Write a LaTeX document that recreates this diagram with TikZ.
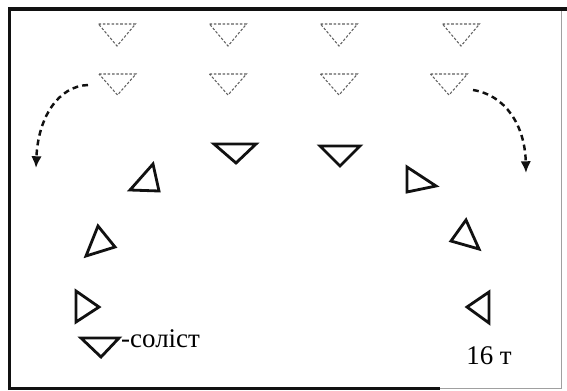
\documentclass[tikz,border=0pt]{standalone}
\usepackage{fontspec}
\setmainfont{Liberation Serif}
\usetikzlibrary{arrows.meta}
\definecolor{Ink}{HTML}{111111}
\definecolor{Ghost}{HTML}{606060}
\definecolor{Edge}{HTML}{A0A0A0}

\begin{document}
\begin{tikzpicture}[x=0.03cm,y=-0.03cm,
  ghost/.style={Ghost,dash pattern=on 2.2pt off 1.5pt,line width=0.9pt},
  dancer/.style={Ink,line width=2.4pt,line join=miter},
  move/.style={Ink,line width=2.1pt,dash pattern=on 5pt off 3.5pt,
    -{Latex[length=10pt,width=9pt]}},
  note/.style={font=\fontsize{23}{26}\selectfont,inner sep=0pt}]
\useasboundingbox (0,0) rectangle (567,390);
% Frame
\draw[Ink,line width=3.4pt] (9.5,390) -- (9.5,9) -- (567,9);
\draw[Ink,line width=3pt] (8,388.5) -- (440,388.5);
\draw[Edge,line width=0.8pt] (440,388.5) -- (561,388.5) -- (561,11);

% Starting lines (dashed)
\foreach \x in {117,228,339,461} {\draw[ghost] (\x-18.5,24) -- (\x+18.5,24) -- (\x,46) -- cycle;}
\foreach \x in {117.5,228,339,449} {\draw[ghost] (\x-18.5,74) -- (\x+18.5,74) -- (\x,95) -- cycle;}

% Moves to the arc
\coordinate (lfrom) at (88,85);
\coordinate (lto) at (36,168);
\coordinate (rfrom) at (473,90);
\coordinate (rto) at (526,173);
\draw[move] (lfrom) .. controls (58,86) and (38,118) .. (lto);
\draw[move] (rfrom) .. controls (505,95) and (525,125) .. (rto);

% Arc of dancers
\draw[dancer] (214,144) -- (256,144) -- (236,163) -- cycle;
\draw[dancer] (320,146) -- (360,146) -- (340,166) -- cycle;
\draw[dancer] (130,190) -- (153,164) -- (159,191) -- cycle;
\draw[dancer] (86,256) -- (98,226) -- (115,247) -- cycle;
\draw[dancer] (76,291) -- (76,322) -- (99,307) -- cycle;
\draw[dancer] (407,167) -- (407,192) -- (436,186) -- cycle;
\draw[dancer] (451,241) -- (466,220) -- (479,249) -- cycle;
\draw[dancer] (467,307) -- (489,292) -- (489,323) -- cycle;

% Soloist
\draw[dancer] (81,338) -- (119,338) -- (101,357) -- cycle;
\node[note,anchor=base west] (solo) at (121,347) {-соліст};
\node[note] (bars) at (489,356) {16 т};
\end{tikzpicture}
\end{document}
